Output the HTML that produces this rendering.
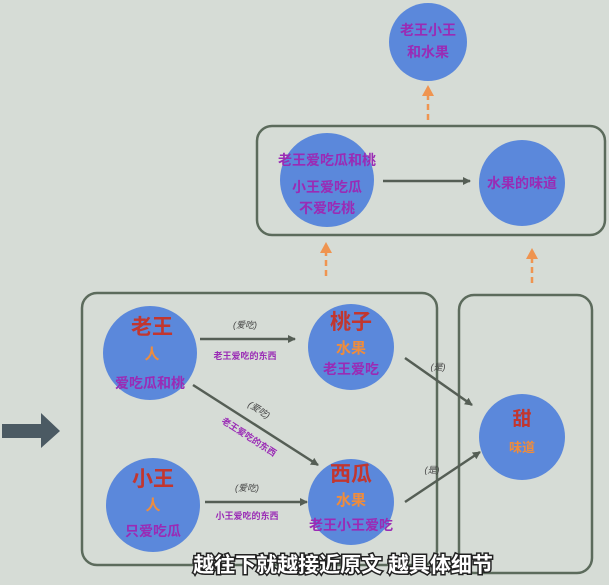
<!DOCTYPE html>
<html><head><meta charset="utf-8"><style>
body{margin:0;width:609px;height:580px;overflow:hidden;background:#d6dcd6;}
svg text{font-family:"Liberation Sans","Noto Sans CJK SC",sans-serif;font-weight:bold;text-anchor:middle;}
.r{fill:#c2362f;font-size:21px}
.o{fill:#ef8c3c;font-size:15px}
.p{fill:#9a2bb5;font-size:14px}
.l{fill:#444;font-size:9px;font-style:italic;font-weight:normal}
.lp{fill:#9a2bb5;font-size:9px}
</style></head><body>
<svg width="609" height="580" xmlns="http://www.w3.org/2000/svg">
<defs>
<marker id="a" markerWidth="8" markerHeight="8" refX="7" refY="4" orient="auto" markerUnits="userSpaceOnUse"><path d="M0,0 L8,4 L0,8 Z" fill="#555e55"/></marker>
</defs>
<g fill="none" stroke="#5c6b5c" stroke-width="2.5">
<rect x="257" y="126" width="348" height="109" rx="15"/>
<rect x="82" y="293" width="355" height="272" rx="15"/>
<rect x="459" y="295" width="133" height="278" rx="15"/>
</g>
<g fill="#5b88db">
<circle cx="428" cy="42" r="39"/>
<circle cx="327" cy="180" r="47"/>
<circle cx="522" cy="183" r="43"/>
<circle cx="150" cy="353" r="47"/>
<circle cx="153" cy="505" r="47"/>
<circle cx="351" cy="347" r="43"/>
<circle cx="351" cy="502" r="43"/>
<circle cx="522" cy="437" r="43"/>
</g>
<g stroke="#ef9450" stroke-width="2.5" stroke-dasharray="6,4" fill="none">
<line x1="428" y1="120" x2="428" y2="94"/>
<line x1="326" y1="276" x2="326" y2="251"/>
<line x1="532" y1="283" x2="532" y2="257"/>
</g>
<g fill="#ef9450">
<path d="M422,96 L428,85 L434,96 Z"/>
<path d="M320,253 L326,242 L332,253 Z"/>
<path d="M526,259 L532,248 L538,259 Z"/>
</g>
<g stroke="#555e55" stroke-width="2.5">
<line x1="383" y1="181" x2="470" y2="181" marker-end="url(#a)"/>
<line x1="200" y1="339" x2="295" y2="339" marker-end="url(#a)"/>
<line x1="205" y1="502" x2="307" y2="502" marker-end="url(#a)"/>
<line x1="193" y1="385" x2="318" y2="465" marker-end="url(#a)"/>
<line x1="405" y1="358" x2="472" y2="405" marker-end="url(#a)"/>
<line x1="405" y1="502" x2="480" y2="452" marker-end="url(#a)"/>
</g>
<path d="M2,424 H41 V413 L60,431 L41,448 V438 H2 Z" fill="#4b5a63"/>
<text class="p" x="428" y="35">老王小王</text>
<text class="p" x="428" y="57">和水果</text>
<text class="p" x="327" y="165">老王爱吃瓜和桃</text>
<text class="p" x="327" y="192">小王爱吃瓜</text>
<text class="p" x="327" y="213">不爱吃桃</text>
<text class="p" x="522" y="188">水果的味道</text>
<text class="r" x="152" y="334">老王</text>
<text class="o" x="152" y="359">人</text>
<text class="p" x="150" y="388">爱吃瓜和桃</text>
<text class="r" x="153" y="486">小王</text>
<text class="o" x="153" y="510">人</text>
<text class="p" x="153" y="536">只爱吃瓜</text>
<text class="r" x="351" y="329">桃子</text>
<text class="o" x="351" y="353">水果</text>
<text class="p" x="351" y="374">老王爱吃</text>
<text class="r" x="351" y="481">西瓜</text>
<text class="o" x="351" y="505">水果</text>
<text class="p" x="351" y="530">老王小王爱吃</text>
<text class="r" x="522" y="425" style="font-size:19px">甜</text>
<text class="o" x="522" y="452" style="font-size:13px">味道</text>
<text class="l" x="245" y="328">(爱吃)</text>
<text class="lp" x="245" y="359">老王爱吃的东西</text>
<text class="l" x="247" y="491">(爱吃)</text>
<text class="lp" x="247" y="519">小王爱吃的东西</text>
<text class="l" x="259" y="413" transform="rotate(33 259 410)">(爱吃)</text>
<text class="lp" x="249" y="440" transform="rotate(33 249 437)">老王爱吃的东西</text>
<text class="l" x="438" y="370">(是)</text>
<text class="l" x="432" y="473">(是)</text>
<text x="343" y="572" style="font-size:21px;fill:#fff;stroke:#222;stroke-width:3;paint-order:stroke">越往下就越接近原文 越具体细节</text>
</svg>
</body></html>
